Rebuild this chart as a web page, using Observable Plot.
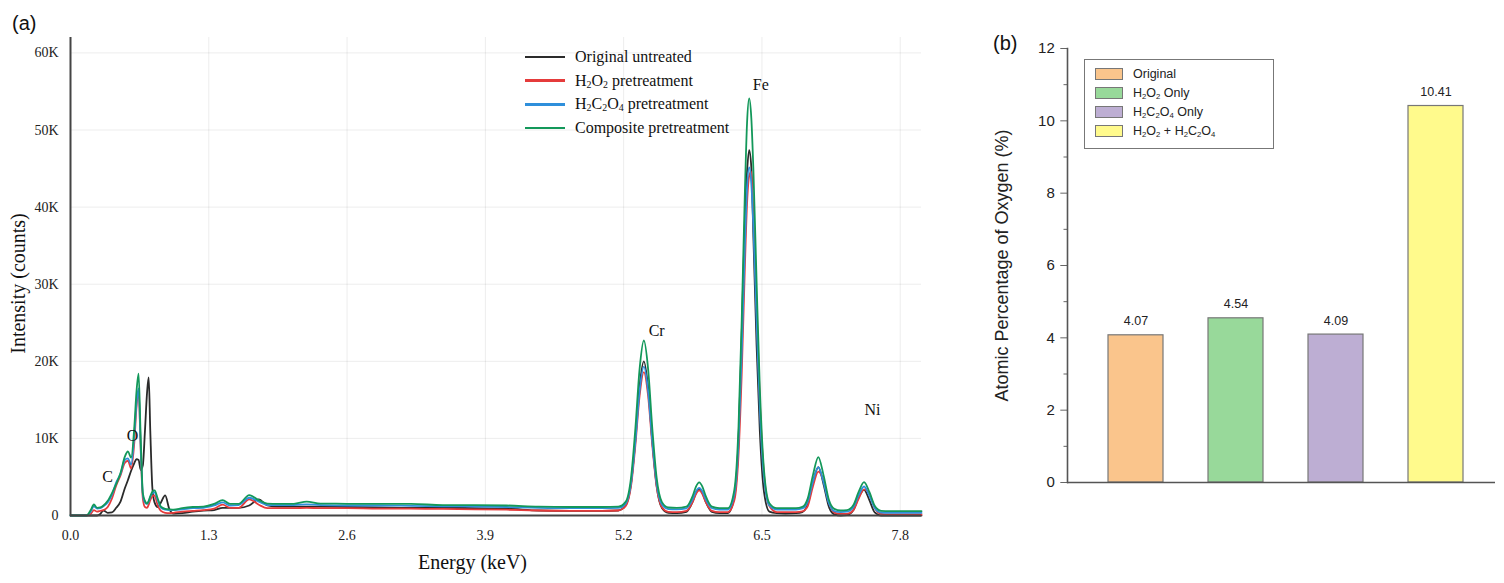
<!DOCTYPE html>
<html>
<head>
<meta charset="utf-8">
<script src="https://cdn.jsdelivr.net/npm/d3@7"></script>
<script src="https://cdn.jsdelivr.net/npm/@observablehq/plot@0.6"></script>
<style>
  body { margin: 0; background: #fff; }
  #root { position: relative; width: 1504px; height: 583px; overflow: hidden; background: #fff; }
  .abs { position: absolute; }
  .plabel { font-family: "Liberation Sans", Arial, sans-serif; font-size: 20px; color: #111; line-height: 22px; }
  .legA { font-family: "Liberation Serif", "Times New Roman", serif; font-size: 16px; color: #111;
          height: 24px; display: flex; align-items: center; white-space: nowrap; }
  .legA .sw { width: 40px; height: 2.4px; margin-right: 10px; }
  #legB { border: 1px solid #777; box-sizing: border-box; background: #fff; }
  .legB { font-family: "Liberation Sans", Arial, sans-serif; font-size: 12.5px; color: #222;
          height: 20px; display: flex; align-items: center; white-space: nowrap; }
  .legB .sw { width: 26px; height: 10px; border: 1px solid #777; margin-right: 10px; }
  sub { font-size: 0.62em; vertical-align: -0.25em; line-height: 0; }
</style>
</head>
<body>
<div id="root"></div>
<script>
// ---------- Panel (a): EDS spectra ----------
const seriesNames = ["Original untreated", "H2O2 pretreatment", "H2C2O4 pretreatment", "Composite pretreatment"];
const seriesLabelsHtml = ["Original untreated", "H<sub>2</sub>O<sub>2</sub> pretreatment",
  "H<sub>2</sub>C<sub>2</sub>O<sub>4</sub> pretreatment", "Composite pretreatment"];
const seriesColors = ["#2b2b2b", "#e53b3b", "#2f8fdb", "#13985a"];

const energy = [
  0, 0.1, 0.15, 0.19, 0.22, 0.25, 0.28, 0.31, 0.35, 0.39,
  0.43, 0.47, 0.51, 0.54, 0.57, 0.60, 0.62, 0.64, 0.66, 0.68,
  0.70, 0.72, 0.735, 0.75, 0.77, 0.79, 0.82, 0.85, 0.89, 0.93,
  0.97,
  1.05, 1.15, 1.25, 1.35, 1.43, 1.5, 1.58, 1.68, 1.77, 1.85,
  1.95, 2.1, 2.22, 2.35, 2.6, 2.9, 3.2, 3.5, 3.8, 4.1,
  4.4, 4.7, 5.0, 5.15,
  5.22, 5.27, 5.31, 5.35, 5.39, 5.43, 5.47, 5.51, 5.56, 5.62, 5.70,
  5.79, 5.85, 5.88, 5.91, 5.94, 5.97, 6.03, 6.10, 6.18,
  6.24, 6.28, 6.31, 6.34, 6.36, 6.38, 6.40, 6.42, 6.45, 6.48, 6.52, 6.57, 6.64, 6.72,
  6.82, 6.88, 6.93, 6.98, 7.03, 7.08, 7.13, 7.18, 7.24,
  7.30, 7.36, 7.41, 7.46, 7.51, 7.56, 7.62, 7.70, 7.80, 8.00
];

const originalCounts = [
  0, 0, 0, 0, 0, 0, 200, 650, 350, 400,
  1000, 1800, 3500, 4600, 5800, 6800, 7300, 7200, 5900, 6500,
  11000, 16000, 17900, 11000, 3500, 1700, 1100, 1700, 2600, 800,
  250,
  300, 500, 640, 700, 1000, 1000, 1000, 1300, 2100, 1300,
  1150, 1150, 1150, 1150, 1100, 1050, 1000, 1000, 950, 900,
  650, 600, 600, 650,
  1360, 4210, 9800, 16800, 20000, 16600, 9550, 3860, 960, 340, 300,
  480, 1840, 2940, 3460, 2940, 1840, 480, 300, 320,
  2370, 9720, 23500, 38500, 44570, 47400, 45190, 36000, 22000, 11000, 3000, 500, 300, 250,
  300, 450, 1450, 4300, 6280, 4000, 1100, 150, 0,
  50, 700, 2400, 3330, 2000, 400, 0, 0, 0, 0
];

const h2o2Counts = [
  0, 0, 0, 200, 700, 500, 600, 700, 1100, 2200,
  3900, 5200, 6800, 7100, 6100, 9500, 14000, 16200, 8500, 2200,
  1100, 1000, 1400, 2000, 2500, 2600, 1300, 600, 350, 300,
  350,
  500, 600, 700, 900, 1400, 1000, 1000, 2100, 1400, 950,
  950, 950, 1000, 950, 950, 900, 900, 850, 800, 750,
  650, 600, 600, 650,
  1250, 3880, 9080, 15540, 18600, 15500, 8990, 3740, 1060, 470, 430,
  590, 1800, 2780, 3250, 2780, 1800, 590, 430, 430,
  1930, 7930, 18430, 32430, 40430, 44000, 44590, 38430, 26930, 14930, 5230, 1230, 430, 430,
  430, 520, 1200, 3800, 5700, 4500, 1700, 380, 200,
  220, 700, 2200, 3400, 2800, 1000, 200, 130, 130, 130
];

const h2c2o4Counts = [
  0, 0, 0, 500, 1200, 900, 950, 1200, 1700, 2700,
  4300, 5400, 7200, 7400, 6600, 10500, 14500, 16500, 9000, 2700,
  1700, 1500, 1800, 2400, 2900, 3000, 2000, 1000, 750, 700,
  700,
  800, 950, 1000, 1300, 1700, 1300, 1350, 2300, 1800, 1350,
  1350, 1350, 1450, 1350, 1300, 1300, 1250, 1200, 1150, 1100,
  1000, 950, 950, 980,
  1580, 4260, 9580, 16180, 19300, 16140, 9500, 4140, 1430, 840, 800,
  940, 2150, 3130, 3590, 3130, 2150, 940, 780, 780,
  2730, 9650, 21190, 35170, 42490, 45150, 43070, 37300, 25180, 13870, 4820, 1310, 780, 780,
  780, 920, 1800, 4400, 6280, 4250, 1550, 580, 450,
  500, 1090, 2650, 3760, 2580, 990, 390, 340, 340, 340
];

const compositeCounts = [
  0, 0, 0, 700, 1430, 1000, 1050, 1300, 1900, 2900,
  4100, 5500, 7600, 8300, 7500, 11500, 16000, 18400, 10000, 2900,
  1900, 1550, 1900, 2500, 3100, 3250, 2200, 1150, 870, 800,
  760,
  950, 1100, 1150, 1500, 2000, 1500, 1500, 2650, 2000, 1550,
  1520, 1520, 1800, 1550, 1520, 1500, 1500, 1350, 1350, 1300,
  1150, 1100, 1100, 1150,
  1800, 4980, 11240, 19010, 22700, 18990, 11190, 4900, 1740, 1040, 980,
  1140, 2580, 3750, 4300, 3750, 2580, 1140, 950, 950,
  3290, 11580, 25400, 42140, 50910, 54100, 51600, 44690, 30180, 16630, 5790, 1590, 950, 950,
  950, 1110, 2190, 5270, 7580, 5170, 2010, 860, 650,
  700, 1350, 3090, 4330, 3050, 1270, 610, 560, 560, 560
];

const energyTicks = [0, 1.3, 2.6, 3.9, 5.2, 6.5, 7.8];
const countTicks = [0, 10000, 20000, 30000, 40000, 50000, 60000];

const peakElements = ["C", "O", "Cr", "Fe", "Ni"];
const peakLabelEnergy = [0.348, 0.583, 5.51, 6.49, 7.54];
const peakLabelCounts = [5065, 10390, 23900, 55840, 13640];

// ---------- Panel (b): oxygen atomic percentage ----------
const treatments = ["Original", "H2O2 Only", "H2C2O4 Only", "H2O2 + H2C2O4"];
const treatmentLabelsHtml = ["Original", "H<sub>2</sub>O<sub>2</sub> Only",
  "H<sub>2</sub>C<sub>2</sub>O<sub>4</sub> Only", "H<sub>2</sub>O<sub>2</sub> + H<sub>2</sub>C<sub>2</sub>O<sub>4</sub>"];
const oxygenPercent = [4.07, 4.54, 4.09, 10.41];
const barColors = ["#fac58c", "#98d99a", "#bdaed3", "#fffa8c"];
const oxygenMajorTicks = [0, 2, 4, 6, 8, 10, 12];
const oxygenMinorTicks = [1, 3, 5, 7, 9, 11];

// ---------- build tables ----------
const seriesCounts = [originalCounts, h2o2Counts, h2c2o4Counts, compositeCounts];
const spectra = seriesNames.flatMap((s, i) =>
  energy.map((e, j) => ({series: s, energy: e, counts: seriesCounts[i][j]})));
const peakLabels = peakElements.map((el, i) => ({element: el, energy: peakLabelEnergy[i], counts: peakLabelCounts[i]}));
const oxygenData = treatments.map((t, i) => ({treatment: t, oxygen: oxygenPercent[i]}));

const fmtK = d => d === 0 ? "0" : (d / 1000) + "K";

const root = document.getElementById("root");
function place(el, left, top) {
  const w = document.createElement("div");
  w.className = "abs";
  w.style.left = left + "px";
  w.style.top = top + "px";
  w.appendChild(el);
  root.appendChild(w);
  return w;
}

const chartA = Plot.plot({
  width: 940, height: 583,
  marginLeft: 70, marginRight: 19, marginTop: 37, marginBottom: 68,
  style: {fontFamily: "Liberation Serif, Times New Roman, serif", fontSize: "14px", color: "#222", background: "transparent"},
  x: {domain: [0, 8]},
  y: {domain: [0, 62000]},
  color: {domain: seriesNames, range: seriesColors},
  marks: [
    Plot.gridX(energyTicks.slice(1), {stroke: "#000", strokeOpacity: 0.075}),
    Plot.gridY(countTicks.slice(1), {stroke: "#000", strokeOpacity: 0.075}),
    Plot.axisX(energyTicks, {tickSize: 0, tickPadding: 15, tickFormat: d3.format(".1f"), label: null, fontSize: 14}),
    Plot.axisY(countTicks, {tickSize: 0, tickPadding: 12, tickFormat: fmtK, label: null, fontSize: 14}),
    Plot.line(spectra, {x: "energy", y: "counts", z: "series", stroke: "series", strokeWidth: 1.8, curve: "monotone-x"}),
    Plot.ruleY([0], {stroke: "#444", strokeWidth: 2}),
    Plot.ruleX([0], {stroke: "#444", strokeWidth: 2}),
    Plot.text(peakLabels, {x: "energy", y: "counts", text: "element", fontSize: 16, fill: "#111"}),
    Plot.text(["Energy (keV)"], {frameAnchor: "bottom", textAnchor: "middle", lineAnchor: "middle", dx: -23.5, dy: 47, fontSize: 20, fill: "#111"}),
    Plot.text(["Intensity (counts)"], {frameAnchor: "left", textAnchor: "middle", lineAnchor: "middle", dx: -52, dy: 7, rotate: -90, fontSize: 20, fill: "#111"})
  ]
});
place(chartA, 0, 0);

const chartB = Plot.plot({
  width: 564, height: 583,
  marginLeft: 127, marginRight: 9, marginTop: 48, marginBottom: 101,
  style: {fontFamily: "Liberation Sans, Arial, sans-serif", fontSize: "15px", color: "#222", background: "transparent"},
  x: {domain: treatments, paddingInner: 0.452, paddingOuter: 0.361, align: 0.561, axis: null},
  y: {domain: [0, 12], axis: null},
  color: {domain: treatments, range: barColors},
  marks: [
    Plot.axisY(oxygenMajorTicks, {tickSize: 6.7, tickPadding: 6, label: null, stroke: "#666", fontSize: 15}),
    Plot.axisY(oxygenMinorTicks, {tickSize: 3.5, tickFormat: () => "", label: null, stroke: "#666"}),
    Plot.barY(oxygenData, {x: "treatment", y: "oxygen", fill: "treatment", stroke: "#777", strokeWidth: 1.2}),
    Plot.text(oxygenData, {x: "treatment", y: "oxygen", text: d => d.oxygen.toFixed(2), dy: -14, fontSize: 12.5, fill: "#222"}),
    Plot.ruleY([0], {stroke: "#555", strokeWidth: 1.6}),
    Plot.frame({anchor: "left", stroke: "#555", strokeWidth: 1.6}),
    Plot.text(["Atomic Percentage of Oxygen (%)"], {frameAnchor: "left", textAnchor: "middle", lineAnchor: "middle", dx: -65, rotate: -90, fontSize: 18, fill: "#222"})
  ]
});
place(chartB, 940, 0);

// panel labels
const la = document.createElement("div"); la.className = "plabel"; la.textContent = "(a)";
place(la, 12, 12);
const lb = document.createElement("div"); lb.className = "plabel"; lb.textContent = "(b)";
place(lb, 993, 32);

// legend (a)
seriesNames.forEach((s, i) => {
  const row = document.createElement("div");
  row.className = "legA";
  const sw = document.createElement("div");
  sw.className = "sw";
  sw.style.background = seriesColors[i];
  const tx = document.createElement("span");
  tx.innerHTML = seriesLabelsHtml[i];
  row.appendChild(sw); row.appendChild(tx);
  place(row, 525, 57 + i * 23.7 - 12);
});

// legend (b)
const box = document.createElement("div");
box.id = "legB";
box.style.width = "190px"; box.style.height = "90px";
place(box, 1084, 59);
treatments.forEach((t, i) => {
  const row = document.createElement("div");
  row.className = "legB";
  const sw = document.createElement("div");
  sw.className = "sw";
  sw.style.background = barColors[i];
  const tx = document.createElement("span");
  tx.innerHTML = treatmentLabelsHtml[i];
  row.appendChild(sw); row.appendChild(tx);
  place(row, 1095, 74 + i * 18.9 - 10);
});
</script>
</body>
</html>
